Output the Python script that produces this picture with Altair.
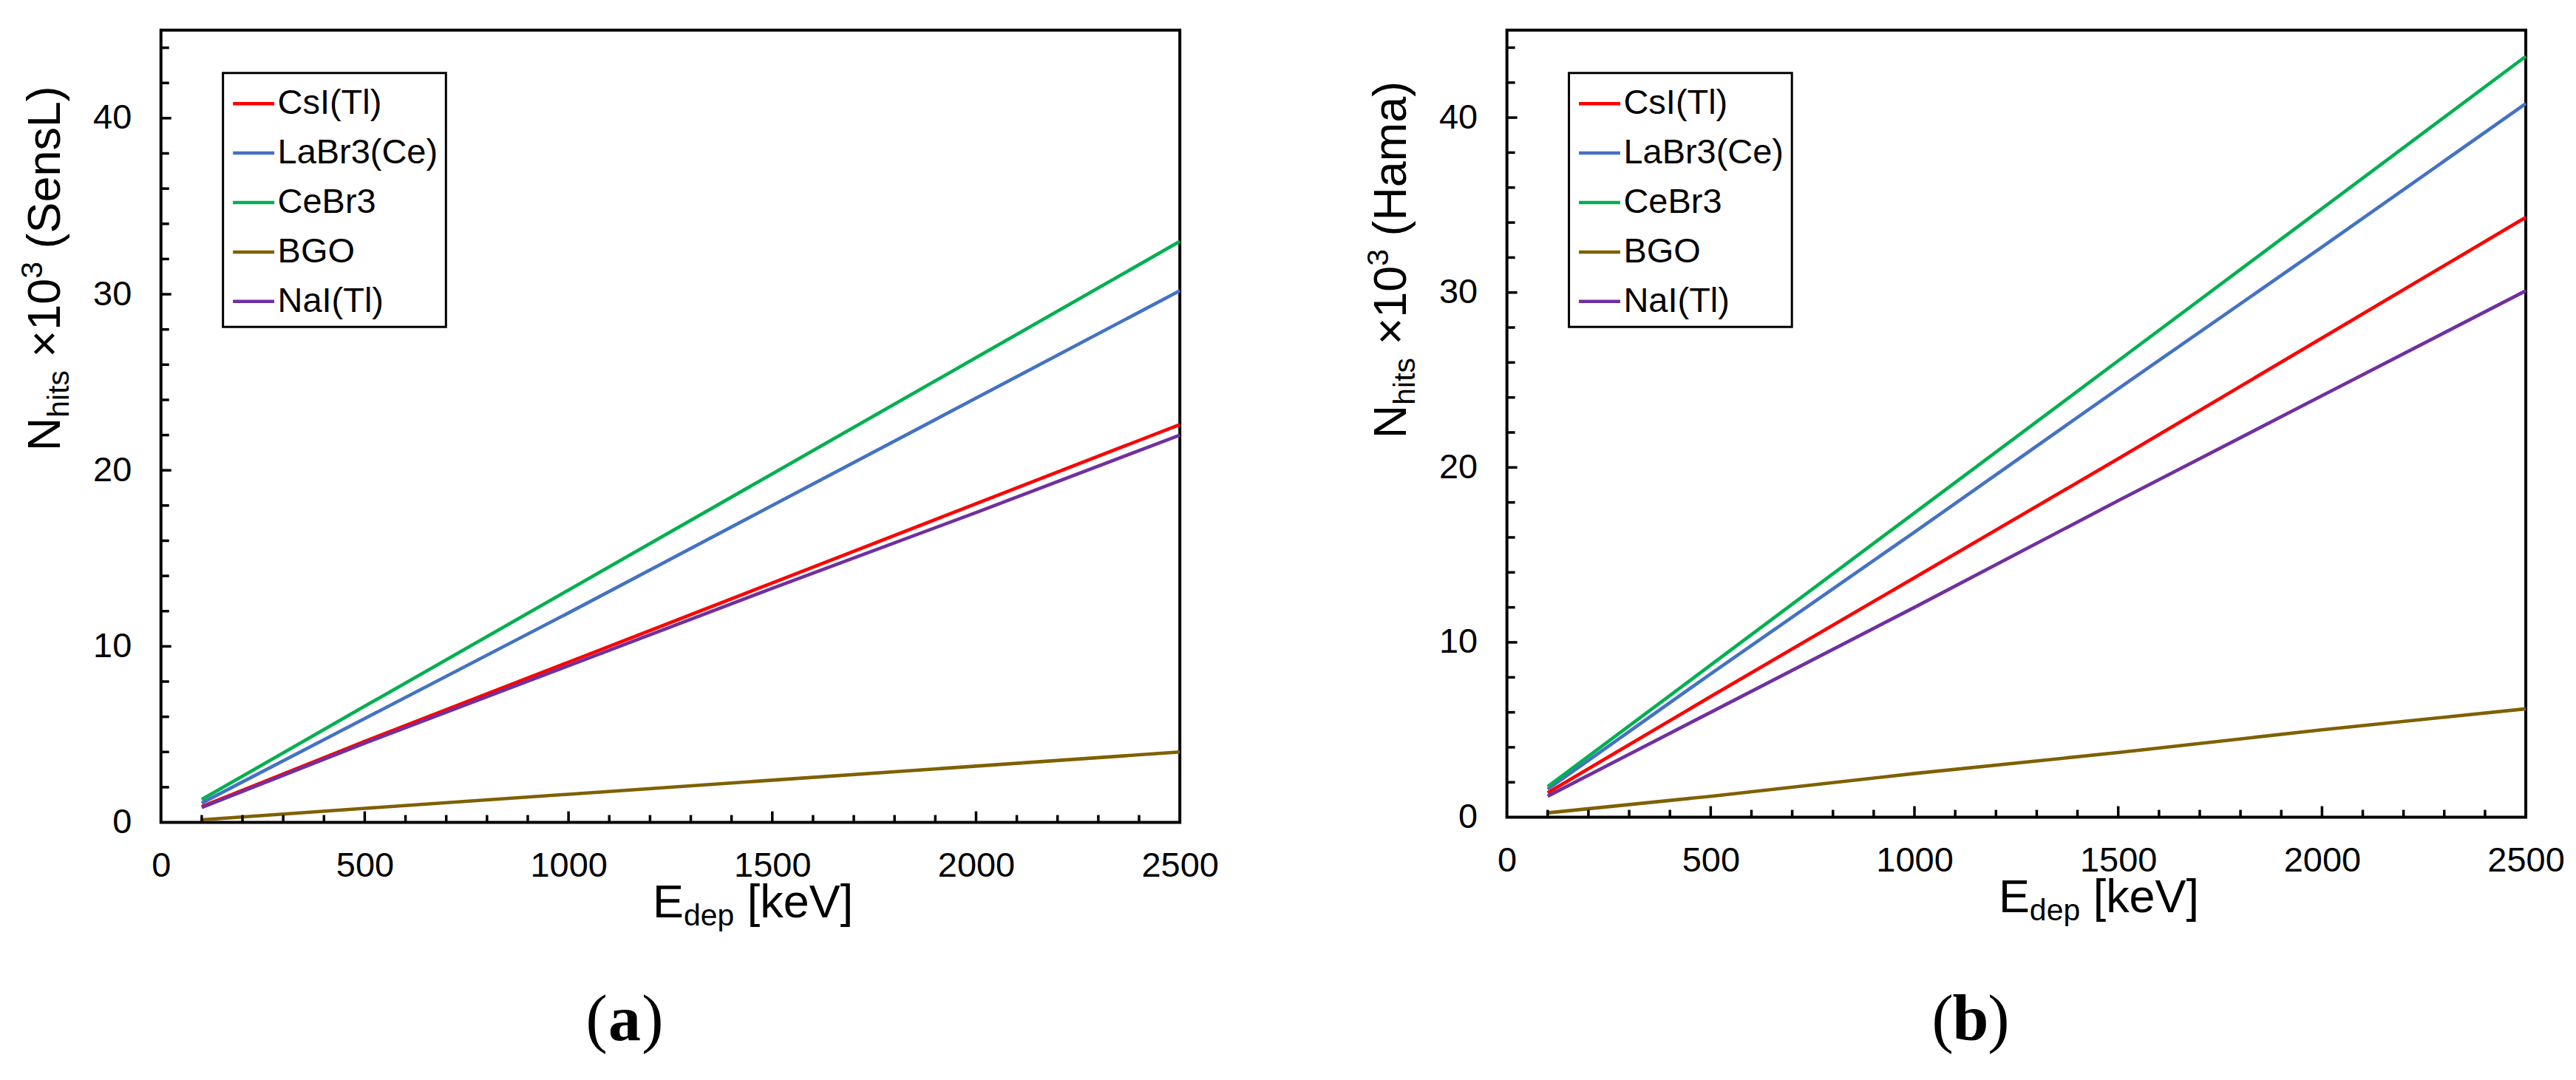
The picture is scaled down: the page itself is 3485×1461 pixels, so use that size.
import altair as alt
import pandas as pd

# --- data (N_hits in units of 10^3) ---
crystals = ["CsI(Tl)", "LaBr3(Ce)", "CeBr3", "BGO", "NaI(Tl)"]
colors = ["#ff0000", "#4472c4", "#00b050", "#7f6000", "#7030a0"]

energy = [100, 500, 1000, 1500, 2000, 2500]

sensl_csi = [0.9, 4.6, 9.1, 13.6, 18.1, 22.6]
sensl_labr = [1.1, 5.9, 11.9, 18.0, 24.1, 30.2]
sensl_cebr = [1.3, 6.6, 13.2, 19.8, 26.4, 33.0]
sensl_bgo = [0.15, 0.8, 1.6, 2.4, 3.2, 4.0]
sensl_nai = [0.85, 4.5, 8.9, 13.3, 17.6, 22.0]

hama_csi = [1.4, 6.9, 13.7, 20.5, 27.4, 34.3]
hama_labr = [1.6, 8.2, 16.3, 24.5, 32.6, 40.8]
hama_cebr = [1.75, 8.7, 17.4, 26.1, 34.8, 43.5]
hama_bgo = [0.25, 1.2, 2.5, 3.7, 5.0, 6.2]
hama_nai = [1.2, 6.0, 12.0, 18.1, 24.1, 30.1]

x_labels = [0, 500, 1000, 1500, 2000, 2500]
y_labels = [0, 10, 20, 30, 40]
x_major = [500, 1000, 1500, 2000]
x_minor = [v for v in range(100, 2500, 100) if v % 500]
y_major = [10, 20, 30, 40]
y_minor = [v for v in range(2, 45, 2) if v % 10]

FONT = "Liberation Sans"
SERIF = "Liberation Serif"
W = 1380

# Arial advance widths (1/1000 em), used to lay out the composed titles
AW = {" ": 278, "N": 722, "h": 556, "i": 222, "t": 278, "s": 500, "×": 584,
      "1": 556, "0": 556, "3": 556, "(": 333, ")": 333, "S": 667, "e": 556,
      "n": 556, "L": 556, "H": 722, "a": 556, "m": 833, "E": 667, "d": 556,
      "p": 556, "[": 278, "]": 278, "k": 500, "V": 667}


def text_w(s, size):
    return sum(AW[c] for c in s) * size / 1000


def piece(txt, x, y, size, angle=0, align="left", weight="normal", font=FONT):
    return (
        alt.Chart(pd.DataFrame({"t": [txt]}))
        .mark_text(align=align, baseline="alphabetic", angle=angle, fontSize=size,
                   fontWeight=weight, font=font, color="black")
        .encode(x=alt.value(x), y=alt.value(y), text="t:N")
    )


def panel(series, H, word, ystart, tag):
    rows = []
    for name, vals in zip(crystals, series):
        for e, v in zip(energy, vals):
            rows.append({"energy": e, "hits": v, "crystal": name})
    df = pd.DataFrame(rows)

    xs = alt.Scale(domain=[0, 2500], nice=False, zero=False)
    ys = alt.Scale(domain=[0, 45], nice=False)
    x_axis = alt.Axis(values=x_labels, labelPadding=36, format="d", labelFlush=False)
    y_axis = alt.Axis(values=y_labels, labelPadding=40, format="d", labelFlush=False)

    lines = alt.Chart(df).mark_line(strokeWidth=4.6).encode(
        x=alt.X("energy:Q", scale=xs, title=None, axis=x_axis),
        y=alt.Y("hits:Q", scale=ys, title=None, axis=y_axis),
        color=alt.Color(
            "crystal:N",
            scale=alt.Scale(domain=crystals, range=colors),
            legend=alt.Legend(
                title=None, orient="none", legendX=84, legendY=58,
                direction="vertical", symbolType="stroke", symbolSize=3136,
                symbolStrokeWidth=4.5, labelFontSize=47, labelFont=FONT,
                labelLimit=400, labelOffset=2, rowPadding=13, padding=11,
                strokeColor="black",
            ),
        ),
    )

    # inward ticks
    tick = dict(strokeWidth=3.5, color="black")
    xt_min = alt.Chart(pd.DataFrame({"pos": x_minor})).mark_rule(**tick).encode(
        x=alt.X("pos:Q", scale=xs, title=None, axis=x_axis),
        y=alt.value(H), y2=alt.value(H - 10))
    xt_maj = alt.Chart(pd.DataFrame({"pos": x_major})).mark_rule(**tick).encode(
        x=alt.X("pos:Q", scale=xs, title=None, axis=x_axis),
        y=alt.value(H), y2=alt.value(H - 15))
    yt_min = alt.Chart(pd.DataFrame({"pos": y_minor})).mark_rule(**tick).encode(
        y=alt.Y("pos:Q", scale=ys, title=None, axis=y_axis),
        x=alt.value(0), x2=alt.value(11))
    yt_maj = alt.Chart(pd.DataFrame({"pos": y_major})).mark_rule(**tick).encode(
        y=alt.Y("pos:Q", scale=ys, title=None, axis=y_axis),
        x=alt.value(0), x2=alt.value(14))

    # y title: N_hits ×10^3 (word), rotated; vega trims spaces, so gaps are
    # added to the positions instead
    big, small = 63, 41
    gap = text_w(" ", big)
    bx = -137
    parts = [("N", big, 0, 0), ("hits", small, 12, 0), ("×10", big, 0, gap),
             ("3", small, -24, 0), (f"({word})", big, 0, gap)]
    ytitle = []
    y = ystart
    for s, size, shift, pre in parts:
        y -= pre
        ytitle.append(piece(s, bx + shift, y, size, angle=270))
        y -= text_w(s, size)

    # x title: E_dep [keV]
    x0, yb = 666, H + 129
    xtitle = [
        piece("E", x0, yb, big),
        piece("dep", x0 + text_w("E", big), yb + 11, small),
        piece("[keV]", x0 + text_w("E", big) + text_w("dep", small) + gap, yb, big),
    ]

    # panel label "(a)" / "(b)"
    cx, cy, fs = 628, 1368, 88
    half = 0.53 * fs / 2
    label = [
        piece("(", cx - half, cy, fs, align="right", font=SERIF),
        piece(tag, cx, cy, fs, align="center", weight="bold", font=SERIF),
        piece(")", cx + half, cy, fs, align="left", font=SERIF),
    ]

    return alt.layer(lines, xt_min, xt_maj, yt_min, yt_maj, *ytitle, *xtitle, *label).properties(
        width=W, height=H
    )


left = panel([sensl_csi, sensl_labr, sensl_cebr, sensl_bgo, sensl_nai], 1073, "SensL", 570, "a")
right = panel([hama_csi, hama_labr, hama_cebr, hama_bgo, hama_nai], 1066, "Hama", 553, "b")

chart = (
    alt.hconcat(left, right, spacing=443, bounds="flush")
    .resolve_scale(color="independent")
    .resolve_legend(color="independent")
    .properties(padding={"left": 14, "top": 30, "right": 5, "bottom": 5})
    .configure_view(stroke="black", strokeWidth=4)
    .configure_axis(grid=False, domain=False, ticks=False, tickSize=0, labelFlush=False,
                    labelFont=FONT, labelFontSize=47, labelColor="black")
    .configure_legend(strokeWidth=3)
)

chart.save("out.html", embed_options={"renderer": "svg", "actions": False})
